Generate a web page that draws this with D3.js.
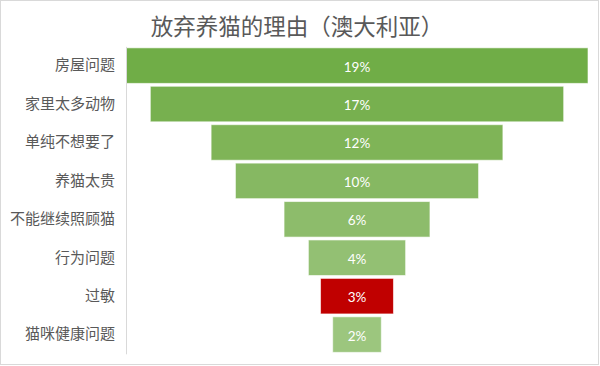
<!DOCTYPE html>
<html>
<head>
<meta charset="utf-8">
<script src="https://cdn.jsdelivr.net/npm/d3@7"></script>
<style>
  html, body { margin: 0; padding: 0; background: #fff; }
  svg { display: block; }
</style>
</head>
<body>
<svg id="chart" width="600" height="366"></svg>
<script>
// Reasons Australians give up their cats (share of respondents)
const categories = ["房屋问题", "家里太多动物", "单纯不想要了", "养猫太贵", "不能继续照顾猫", "行为问题", "过敏", "猫咪健康问题"];
const shares = [0.19, 0.17, 0.12, 0.10, 0.06, 0.04, 0.03, 0.02];
const barColors = ["#70AD47", "#77B04F", "#7FB457", "#86B862", "#8DBC6B", "#93C073", "#C00000", "#9CC67E"];
const titleText = "放弃养猫的理由（澳大利亚）";

const svg = d3.select("#chart");
const W = 600, H = 366;
const cjk = "'Noto Sans CJK SC', 'Noto Sans', sans-serif";

// outer chart frame
svg.append("rect")
  .attr("x", 0.5).attr("y", 0.5)
  .attr("width", W - 2).attr("height", H - 2)
  .attr("fill", "#fff").attr("stroke", "#d9d9d9");

svg.append("text")
  .attr("x", 297).attr("y", 25)
  .attr("text-anchor", "middle")
  .attr("dominant-baseline", "central")
  .attr("font-family", cjk)
  .attr("font-size", 22.5)
  .attr("fill", "#595959")
  .text(titleText);

const maxShare = d3.max(shares);
const x = d3.scaleLinear().domain([0, maxShare]).range([126, 588]);
const y = d3.scaleBand().domain(categories).range([46.4, 353.8])
  .paddingInner(0.075).paddingOuter(0.0375);

const rows = categories.map((c, i) => ({ cat: c, v: shares[i], color: barColors[i] }));

// funnel: each bar is offset by half the gap to the widest bar
const bars = svg.append("g");
bars.selectAll("rect").data(rows).join("rect")
  .attr("x", d => x((maxShare - d.v) / 2))
  .attr("y", d => y(d.cat))
  .attr("width", d => x(d.v) - x(0))
  .attr("height", y.bandwidth())
  .attr("fill", d => d.color)
  .attr("stroke", "#ffffff")
  .attr("stroke-opacity", 0.6)
  .attr("stroke-width", 1);

bars.selectAll("text").data(rows).join("text")
  .attr("x", d => x((maxShare - d.v) / 2) + (x(d.v) - x(0)) / 2)
  .attr("y", d => y(d.cat) + y.bandwidth() / 2 + 1)
  .attr("text-anchor", "middle")
  .attr("dominant-baseline", "central")
  .attr("font-family", "Lato, 'Open Sans', sans-serif")
  .attr("font-size", 13.5)
  .attr("fill", "#ffffff")
  .text(d => d3.format(".0%")(d.v));

// category axis
const axis = svg.append("g")
  .attr("transform", "translate(126,0)")
  .call(d3.axisLeft(y).tickSize(0).tickPadding(11));
axis.select(".domain").attr("stroke", "#d9d9d9");
axis.selectAll("text")
  .attr("font-family", cjk)
  .attr("font-size", 15)
  .attr("fill", "#595959");
</script>
</body>
</html>
